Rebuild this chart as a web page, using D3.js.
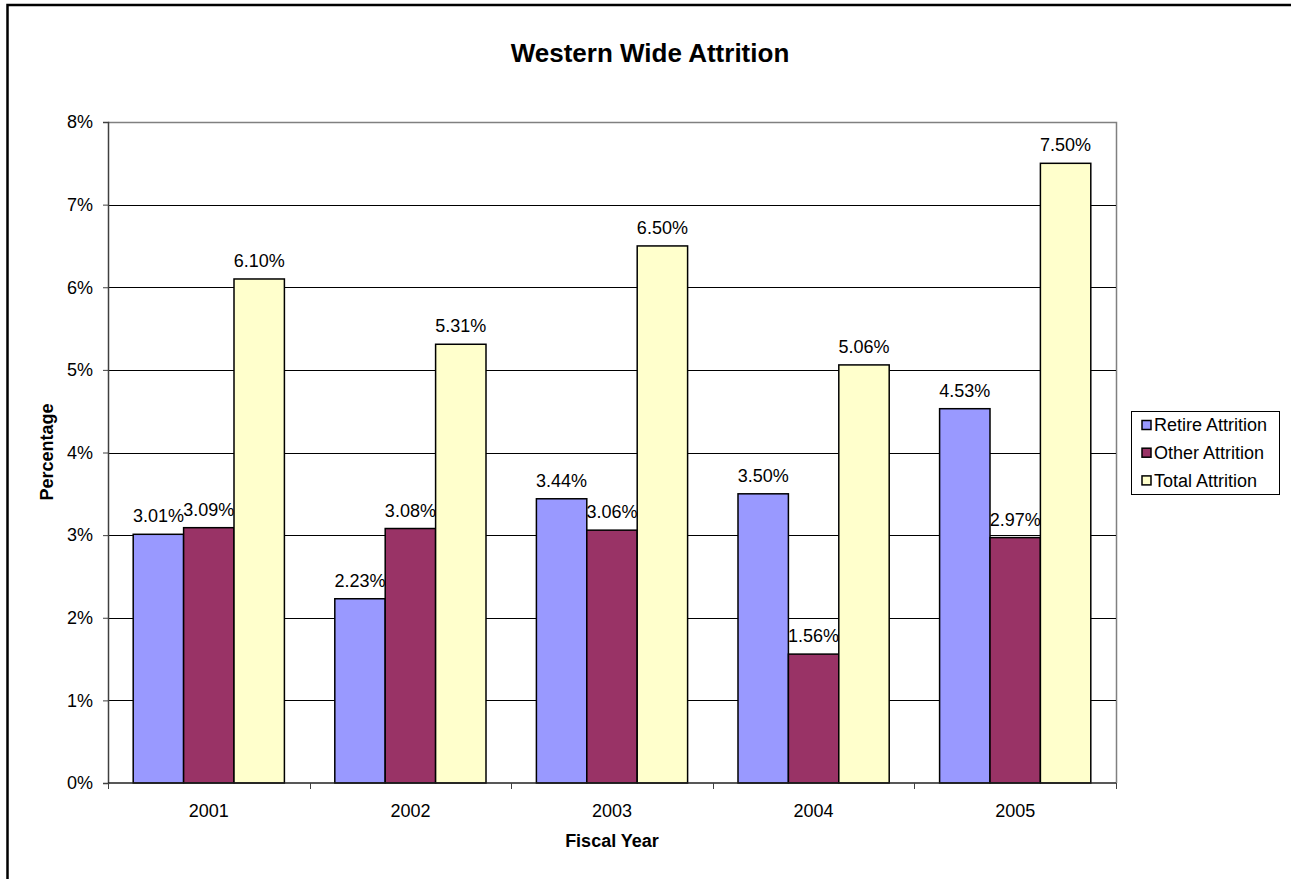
<!DOCTYPE html>
<html>
<head>
<meta charset="utf-8">
<script src="https://cdn.jsdelivr.net/npm/d3@7"></script>
<style>
  html, body { margin: 0; padding: 0; background: #fff; }
  svg { display: block; font-family: "Liberation Sans", Arial, sans-serif; }
</style>
</head>
<body>
<svg id="chart" width="1291" height="879"></svg>
<script>
// Fiscal years on the x axis
const years = ["2001", "2002", "2003", "2004", "2005"];
// Attrition rates, in percent
const retireAttrition = [3.01, 2.23, 3.44, 3.50, 4.53];
const otherAttrition  = [3.09, 3.08, 3.06, 1.56, 2.97];
const totalAttrition  = [6.10, 5.31, 6.50, 5.06, 7.50];
const seriesNames = ["Retire Attrition", "Other Attrition", "Total Attrition"];
const seriesColors = ["#9999FF", "#993366", "#FFFFCC"];
const yTicks = [0, 1, 2, 3, 4, 5, 6, 7, 8];

const seriesValues = [retireAttrition, otherAttrition, totalAttrition];

const svg = d3.select("#chart");
const plot = { left: 108, right: 1116, top: 122, bottom: 783 };

// outer frame
svg.append("rect")
  .attr("x", 7.5).attr("y", 5)
  .attr("width", 1400).attr("height", 1000)
  .attr("fill", "none").attr("stroke", "#000").attr("stroke-width", 2.5);

const x0 = d3.scaleBand().domain(years).range([plot.left, plot.right]).paddingInner(0).paddingOuter(0);
// three bars plus one bar-width gap per category
const x1 = d3.scaleBand().domain(seriesNames)
  .range([x0.bandwidth() / 8, x0.bandwidth() * 7 / 8])
  .paddingInner(0).paddingOuter(0);
const y = d3.scaleLinear().domain([0, 8]).range([plot.bottom, plot.top]);

// plot area frame (top/right in gray)
svg.append("path")
  .attr("d", `M${plot.left},${plot.top + 0.5}H${plot.right + 0.5}V${plot.bottom}`)
  .attr("fill", "none").attr("stroke", "#808080").attr("stroke-width", 1.5);

// gridlines
svg.append("g").selectAll("line")
  .data(yTicks.filter(t => t > 0 && t < 8))
  .join("line")
  .attr("x1", plot.left).attr("x2", plot.right)
  .attr("y1", d => Math.round(y(d)) + 0.5).attr("y2", d => Math.round(y(d)) + 0.5)
  .attr("stroke", "#000").attr("stroke-width", 1);

// bars
const groups = svg.append("g").selectAll("g")
  .data(years)
  .join("g")
  .attr("transform", d => `translate(${x0(d)},0)`);

groups.selectAll("rect")
  .data((d, i) => seriesNames.map((s, j) => ({ s, j, v: seriesValues[j][i] })))
  .join("rect")
  .attr("x", d => x1(d.s))
  .attr("y", d => y(d.v))
  .attr("width", x1.bandwidth())
  .attr("height", d => y(0) - y(d.v))
  .attr("fill", d => seriesColors[d.j])
  .attr("stroke", "#000").attr("stroke-width", 1.5);

groups.selectAll("text")
  .data((d, i) => seriesNames.map((s, j) => ({ s, j, v: seriesValues[j][i] })))
  .join("text")
  .attr("x", d => x1(d.s) + x1.bandwidth() / 2)
  .attr("y", d => y(d.v) - 12)
  .attr("text-anchor", "middle")
  .attr("font-size", 18).attr("fill", "#000")
  .text(d => d.v.toFixed(2) + "%");

// y axis
const yAxis = d3.axisLeft(y).tickValues(yTicks).tickFormat(d => d + "%").tickSize(5).tickPadding(10);
const gy = svg.append("g").attr("transform", `translate(${plot.left},0)`).call(yAxis);
gy.select(".domain").attr("stroke", "#404040").attr("stroke-width", 1.5);
gy.selectAll(".tick line").attr("stroke", "#404040");
gy.selectAll(".tick text").attr("font-size", 18).attr("font-family", "Liberation Sans, Arial, sans-serif").attr("fill", "#000");

// x axis: ticks sit on category boundaries
const gx = svg.append("g").attr("transform", `translate(0,${plot.bottom})`);
gx.append("line")
  .attr("x1", plot.left).attr("x2", plot.right)
  .attr("stroke", "#202020").attr("stroke-width", 1.5);
const boundaries = years.map(d => x0(d)).concat([x0(years[years.length - 1]) + x0.bandwidth()]);
gx.selectAll(".bt").data(boundaries).join("line")
  .attr("class", "bt")
  .attr("x1", d => Math.round(d) + 0.5).attr("x2", d => Math.round(d) + 0.5)
  .attr("y1", 0).attr("y2", 6)
  .attr("stroke", "#404040");
gx.selectAll("text").data(years).join("text")
  .attr("x", d => x0(d) + x0.bandwidth() / 2)
  .attr("y", 34)
  .attr("text-anchor", "middle")
  .attr("font-size", 18).attr("fill", "#000")
  .text(d => d);

// titles
svg.append("text")
  .attr("x", 650).attr("y", 62)
  .attr("text-anchor", "middle")
  .attr("font-size", 26).attr("font-weight", "bold")
  .text("Western Wide Attrition");

svg.append("text")
  .attr("x", 612).attr("y", 847)
  .attr("text-anchor", "middle")
  .attr("font-size", 18).attr("font-weight", "bold")
  .text("Fiscal Year");

svg.append("text")
  .attr("transform", "translate(53,452) rotate(-90)")
  .attr("text-anchor", "middle")
  .attr("font-size", 18).attr("font-weight", "bold")
  .text("Percentage");

// legend
const legend = svg.append("g").attr("transform", "translate(1131,411)");
legend.append("rect")
  .attr("x", 0.5).attr("y", 0.5).attr("width", 148).attr("height", 83)
  .attr("fill", "#fff").attr("stroke", "#000").attr("stroke-width", 1);
const items = legend.selectAll("g.item").data(seriesNames).join("g")
  .attr("class", "item")
  .attr("transform", (d, i) => `translate(0,${14 + i * 27.7})`);
items.append("rect")
  .attr("x", 11).attr("y", -4.5).attr("width", 9).attr("height", 9)
  .attr("fill", (d, i) => seriesColors[i]).attr("stroke", "#000").attr("stroke-width", 1.5);
items.append("text")
  .attr("x", 23).attr("y", 0).attr("dy", "0.35em")
  .attr("font-size", 18).attr("fill", "#000")
  .text(d => d);
</script>
</body>
</html>
